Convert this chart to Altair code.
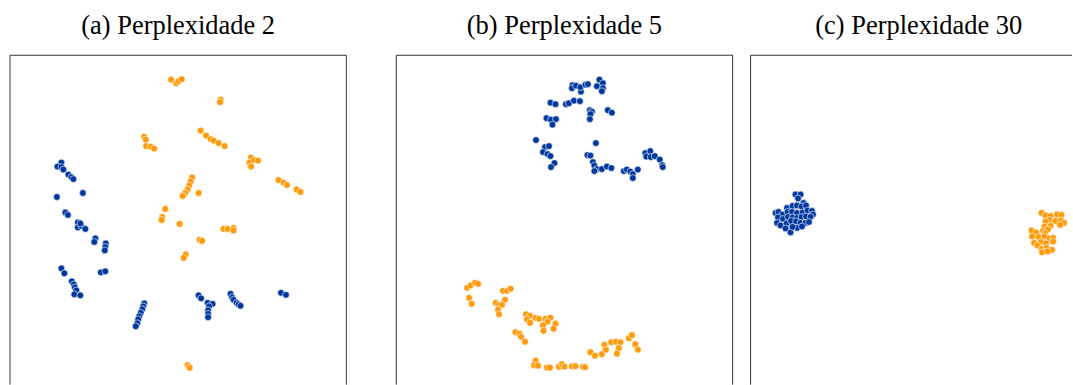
import altair as alt
import pandas as pd

# ---- data: t-SNE embeddings (panel units, y downward) ----
TITLES = ["(a) Perplexidade 2", "(b) Perplexidade 5", "(c) Perplexidade 30"]
CLASSES = ["0", "1"]

a_blue = [(51.5,107.5),(47.5,111.5),(51.5,112),(53.5,114.5),(58.5,119.5),(61.5,122),(63.5,124),
          (73,138),(47,142),(55.5,157.5),(58,160),(68,167.5),(68,172.5),(71.5,171),(75.5,174),(70.5,168.5),
          (85.5,183.5),(84.5,187),(96,188.5),(95.5,192),(95,195.5),(51.5,213.5),(54.5,218.5),
          (91,217.5),(95.5,216.5),(62,226.5),(64,229.5),(65,232.5),(66.5,235.5),(64.5,239.5),(70.5,240.5),
          (134.5,248.5),(133.5,251.5),(132.5,254.5),(131,258),(129.5,261.5),(128.5,264.5),(127.5,268.5),(126,271.5),
          (189,240.5),(191.5,243.5),(198,248),(203,249),(199.5,251.5),(198.5,255.5),(198.5,259),(198.5,262.5),
          (221,239),(222.5,242.5),(224,245),(227,248),(229,249.5),(231,251),(271.5,238),(276.5,240)]
a_orange = [(161.5,24.5),(166.5,28),(169,26),(172,24),(211,44.5),(210.5,47),
            (134.5,81.5),(136,84.5),(136.5,91),(141,91.5),(144.5,93.5),
            (191,75.5),(196.5,80.5),(201,84),(204,85.5),(209,88),(215,91),
            (241.5,102.5),(240,107.5),(241.5,111.5),(244.5,105),(248.5,105.5),
            (269,125),(274,127.5),(277.5,130),(287,134.5),(291,137),
            (182.5,122.5),(181,126.5),(179.5,130.5),(178,134.5),(175.5,138),(173,141),(189,138),
            (155.5,154),(152.5,162),(152,165),(170,169),(214,174),(218,174),(224,173),(224,175.5),
            (190,185),(192.5,186),(176,199.5),(174,203),(178,310.5),(180,313)]

b_blue = [(203.5,24.5),(207,28),(201,31),(207,33),(206,36),(176.5,30),(176,33),(180,30.5),(185,36.5),
          (184.5,32),(189.5,29.5),(192,29),(154.5,47.5),(159.5,49),(170,49),(173,48),(178,45.5),(184,46),
          (194,55),(196,56.5),(194.5,59),(194,64),(212,55),(216,57.5),(150.5,63),(155,64.5),(160,64),
          (156.5,69.5),(140,85),(149,92),(153,91),(147,97),(151.5,99),(154.5,101),(158.5,108),(155,112),
          (200,88),(191.5,100),(194.5,100.5),(197,107),(198.5,110.5),(201,114),(198.5,116),(206,114),
          (211,111.5),(215.5,113),(228,116),(231,114.5),(234.5,116.5),(237,119),(242,114.5),(237,123),
          (249.5,98),(254.5,96),(250.5,101.5),(255,102),(259,101),(264,104.5),(266.5,110),(267,112)]
b_orange = [(71,233),(74.5,230.5),(79,228),(82,229),(73,243),(75.5,249),(107,236),(111,236),(114.5,234),
            (109,245),(99.5,248),(103,250),(106,250),(102,255),(103,259.5),(130,259.5),(134,261),
            (139.5,263),(143,264),(131,264.5),(134,268),(149.5,264),(154.5,263),(151.5,267),(159.5,269),
            (147,270.5),(147.5,276),(157.5,274),(119.5,277.5),(123.5,279),(125,282),(129,287),
            (139.5,306),(138,310.5),(142,311),(151,313),(154,313),(163,312),(166,309.5),(168.5,312),
            (176,311.5),(179.5,311.5),(187,312),(189,312.5),(194.5,297.5),(199,301),(206,299.5),
            (208.5,290),(210,295),(215.5,287.5),(220,287),(224.5,287.5),(223,293.5),(221,299),
            (233,283.5),(236,280.5),(239.5,289.5),(242,295)]

c_blue = [(45,139.5),(50,139.5),(47.5,143.5),(53,148),(36.5,153),(42,151),(46.5,150.5),(51,151.5),(55.5,150.5),
          (25,158),(28,157),(32,159.5),(37,157),(41.5,157),(46.5,158),(52,157.5),(57,155.5),(61.5,156),(62.5,159.5),
          (27.5,162.5),(32.5,164),(37.5,162),(42,162.5),(46.5,163),(51,162),(55.5,161.5),(60,162),
          (26.5,168),(30,170.5),(36,168.5),(40.5,166),(45.5,166.5),(50,168),(55,168),(58.5,167),
          (35,173.5),(40,177.5),(46.5,173),(51.5,171.5),(42,172)]
c_orange = [(291.5,158),(295.5,160.5),(300.5,161),(307,159.5),(311.5,160),(299.5,165),(305.5,166),(311,165.5),
            (314,168),(310,170),(295.5,166.5),(294.5,171.5),(300.5,171),(281.5,175.5),(286,177.5),(293,176),
            (298,174.5),(295,178.5),(282,181.5),(288.5,182),(294.5,181.5),(299.5,183.5),(303,183),
            (284,188),(291,187),(296,188.5),(303,186.5),(287.5,190.5),(291.5,194),(296.5,193),(302,195),
            (292,197.5),(297.5,196.5)]

PANELS = [(a_blue, a_orange), (b_blue, b_orange), (c_blue, c_orange)]

# ---- styling ----
BLUE = "#00389f"
ORANGE = "#ff9a0a"
FRAME = "#333333"
FULL_W = 337
H = 330


def frame(df, w, right=True):
    parts = [
        alt.Chart(df).mark_rule(color=FRAME, strokeWidth=1).encode(
            x=alt.value(0), x2=alt.value(w), y=alt.value(0)),
        alt.Chart(df).mark_rule(color=FRAME, strokeWidth=1).encode(
            x=alt.value(0), y=alt.value(0), y2=alt.value(H)),
    ]
    if right:
        parts.append(alt.Chart(df).mark_rule(color=FRAME, strokeWidth=1).encode(
            x=alt.value(w), y=alt.value(0), y2=alt.value(H)))
    return parts


def panel(i, w, right=True, dx=0):
    blue, orange = PANELS[i]
    rows = [{"x": p[0], "y": p[1], "cls": CLASSES[0]} for p in blue] + \
           [{"x": p[0], "y": p[1], "cls": CLASSES[1]} for p in orange]
    df = pd.DataFrame(rows)
    pts = alt.Chart(df).mark_circle(size=46, opacity=1, stroke="white", strokeWidth=0.6, clip=True).encode(
        x=alt.X("x:Q", axis=None, scale=alt.Scale(domain=[0, w], nice=False, zero=False)),
        y=alt.Y("y:Q", axis=None, scale=alt.Scale(domain=[0, H], nice=False, zero=False, reverse=True)),
        color=alt.Color("cls:N", legend=None,
                        scale=alt.Scale(domain=CLASSES, range=[BLUE, ORANGE])),
    )
    first = df.iloc[:1]
    return alt.layer(pts, *frame(first, w, right)).properties(
        width=w, height=H,
        title=alt.TitleParams(TITLES[i], font="Liberation Serif", fontSize=26.5,
                              fontWeight="normal", color="black", anchor="middle",
                              offset=15, dx=dx),
    )


WC = 322
left = alt.hconcat(panel(0, FULL_W), panel(1, FULL_W), spacing=48)
chart = alt.hconcat(left, panel(2, WC, right=False, dx=(FULL_W - WC) / 2), spacing=16).properties(
    padding={"left": 9, "top": 13, "right": 0, "bottom": 0}
).configure_view(stroke=None)

chart.save("out.html", embed_options={"renderer": "svg", "actions": False})
